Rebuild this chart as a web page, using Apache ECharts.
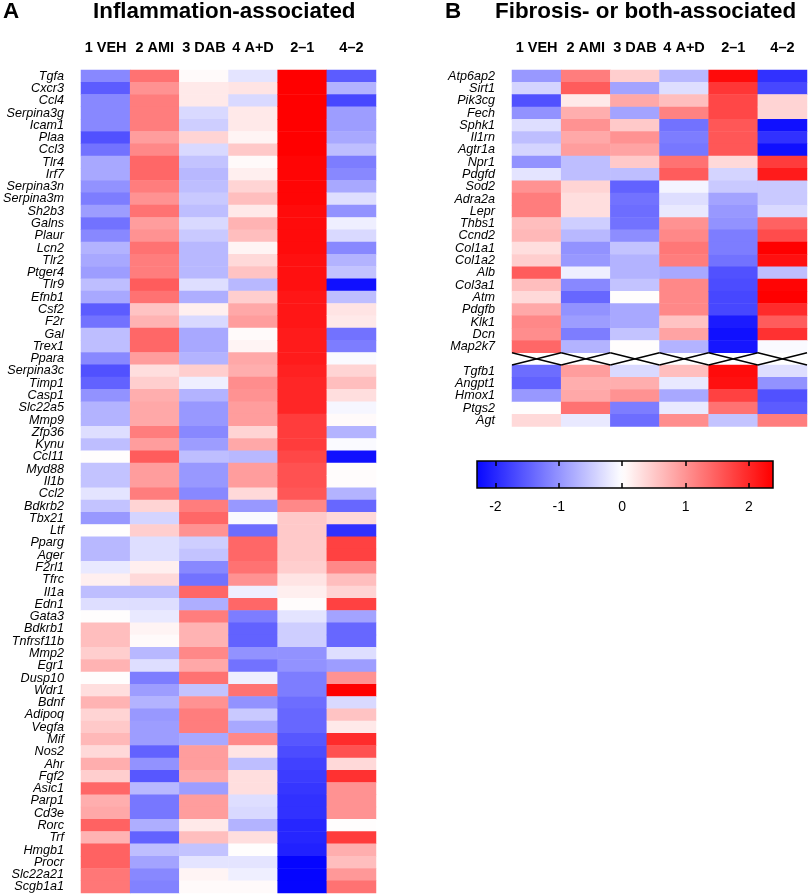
<!DOCTYPE html>
<html><head><meta charset="utf-8">
<script src="https://cdn.jsdelivr.net/npm/echarts@6/dist/echarts.min.js"></script>
<style>html,body{margin:0;padding:0;background:#fff}#c{width:809px;height:896px}</style>
</head><body><div id="c"></div>
<script>
const columns = ['1 VEH', '2 AMI', '3 DAB', '4 A+D', '2\u20131', '4\u20132'];

const genesA = ['Tgfa','Cxcr3','Ccl4','Serpina3g','Icam1','Plaa','Ccl3','Tlr4','Irf7','Serpina3n','Serpina3m','Sh2b3','Galns',
 'Plaur','Lcn2','Tlr2','Ptger4','Tlr9','Efnb1','Csf2','F2r','Gal','Trex1','Ppara','Serpina3c','Timp1','Casp1','Slc22a5','Mmp9','Zfp36','Kynu',
 'Ccl11','Myd88','Il1b','Ccl2','Bdkrb2','Tbx21','Ltf','Pparg','Ager','F2rl1','Tfrc','Il1a','Edn1','Gata3','Bdkrb1','Tnfrsf11b','Mmp2','Egr1',
 'Dusp10','Wdr1','Bdnf','Adipoq','Vegfa','Mif','Nos2','Ahr','Fgf2','Asic1','Parp1','Cd3e','Rorc','Trf','Hmgb1','Procr','Slc22a21','Scgb1a1'];

const aVEH = [-1.1,-1.5,-1.1,-1.1,-1.1,-1.6,-1.3,-0.8,-0.8,-1.0,-1.2,-0.9,-1.3,
 -1.1,-0.7,-0.8,-0.9,-0.6,-0.8,-1.5,-1.3,-0.6,-0.6,-1.1,-1.6,-1.45,-1.0,-0.7,-0.7,-0.3,-0.6,
 0.02,-0.55,-0.55,-0.25,-0.55,-0.95,0.02,-0.65,-0.65,-0.2,0.15,-0.6,-0.3,0.02,0.6,0.6,0.45,0.7,
 0.02,0.3,0.7,0.4,0.5,0.65,0.35,0.75,0.45,1.4,0.75,0.8,1.45,0.7,1.45,1.45,1.25,1.25];
const aAMI = [1.3,1.0,1.2,1.2,1.2,0.9,1.1,1.4,1.4,1.2,1.0,1.3,0.9,
 1.0,1.3,1.2,1.2,1.5,1.3,0.55,0.7,1.4,1.4,0.9,0.3,0.45,0.75,0.8,0.8,1.2,0.9,
 1.5,0.9,0.9,1.2,0.4,-0.4,0.45,-0.3,-0.3,0.15,0.35,-0.6,-0.3,-0.2,0.1,0.05,-0.65,-0.3,
 -1.2,-0.9,-0.7,-0.95,-0.9,-0.9,-1.45,-1.0,-1.55,-0.65,-1.25,-1.25,-0.75,-1.45,-0.6,-0.85,-1.1,-1.15];
const aDAB = [0.05,0.2,0.2,-0.35,-0.45,0.4,-0.35,-0.55,-0.65,-0.6,-0.5,-0.6,-0.35,
 -0.5,-0.65,-0.65,-0.65,-0.3,-0.75,0.15,-0.35,-0.8,-0.8,-0.7,0.45,-0.15,-0.7,-0.95,-0.95,-1.1,-0.9,
 -0.6,-0.95,-0.95,-1.1,1.2,1.4,1.0,-0.45,-0.55,-1.1,-1.3,1.4,-0.75,1.2,0.7,0.7,1.1,0.8,
 1.3,-0.55,1.0,1.2,1.2,-0.8,0.9,0.9,0.8,-0.9,0.9,0.9,0.2,0.6,-0.55,-0.25,0.1,0.05];
const aAD = [-0.25,0.25,-0.35,0.2,0.2,0.1,0.5,0.05,0.15,0.4,0.6,0.2,0.7,
 0.6,0.1,0.35,0.55,-0.65,0.45,0.8,0.9,0.05,0.1,0.8,0.75,1.05,1.0,0.9,0.9,0.4,0.8,
 -0.65,0.9,0.9,0.35,-0.95,-0.05,-1.35,1.4,1.4,1.3,1.0,-0.15,1.4,-1.2,-1.45,-1.45,-1.0,-1.3,
 -0.15,1.3,-1.0,-0.5,-0.8,1.1,0.25,-0.6,0.3,0.3,-0.3,-0.35,-0.7,0.3,0.02,-0.25,-0.15,0.05];
const aD21 = [2.4,2.4,2.4,2.4,2.35,2.35,2.35,2.3,2.3,2.3,2.3,2.25,2.25,
 2.25,2.25,2.2,2.2,2.2,2.15,2.15,2.15,2.1,2.1,2.1,2.05,2.0,2.0,2.0,1.8,1.8,1.8,
 1.7,1.6,1.6,1.55,1.1,0.5,0.5,0.5,0.5,0.45,0.25,0.15,0.03,-0.25,-0.45,-0.45,-1.0,-1.0,
 -1.2,-1.2,-1.35,-1.4,-1.4,-1.55,-1.65,-1.75,-1.8,-1.85,-1.9,-1.9,-2.0,-2.0,-2.05,-2.3,-2.3,-2.3];
const aD42 = [-1.5,-0.7,-1.7,-0.9,-0.9,-0.8,-0.6,-1.2,-1.1,-0.8,-0.3,-1.0,-0.15,
 -0.35,-1.1,-0.7,-0.55,-2.2,-0.6,0.25,0.2,-1.3,-1.2,-0.05,0.4,0.6,0.3,-0.08,0.05,-0.7,-0.05,
 -2.2,0.03,0.03,-0.7,-1.4,0.35,-1.9,1.75,1.75,1.1,0.6,0.4,1.75,-0.85,-1.4,-1.4,-0.3,-0.9,
 1.0,2.35,-0.35,0.55,0.2,1.95,1.6,0.35,1.9,1.0,1.0,1.0,0.02,1.8,0.75,0.6,0.95,1.3];

const genesB1 = ['Atp6ap2','Sirt1','Pik3cg','Fech','Sphk1','Il1rn','Agtr1a','Npr1','Pdgfd','Sod2','Adra2a','Lepr','Thbs1',
 'Ccnd2','Col1a1','Col1a2','Alb','Col3a1','Atm','Pdgfb','Klk1','Dcn','Map2k7'];
const genesB2 = ['Tgfb1','Angpt1','Hmox1','Ptgs2','Agt'];

const bVEH = [-0.95,-0.4,-1.6,-1.0,-0.3,-0.6,-0.4,-1.0,-0.25,1.0,1.2,1.2,0.6,0.65,0.3,0.45,1.5,0.6,0.35,0.8,1.1,1.05,1.4,
 -1.35,-1.45,-0.95,0.02,0.35];
const bAMI = [1.2,1.5,0.2,0.75,1.0,0.8,0.9,-0.6,-0.6,0.4,0.3,0.3,-0.45,-0.65,-1.0,-0.95,-0.15,-1.1,-1.4,-1.0,-0.9,-1.2,-0.7,
 0.9,0.75,0.8,1.3,-0.2];
const bDAB = [0.45,-0.85,0.8,-0.85,0.5,1.0,0.85,0.5,-0.6,-1.45,-1.3,-1.35,-1.3,-1.05,-0.55,-0.7,-0.7,-0.55,0.02,-0.8,-0.8,-0.55,0.02,
 -0.35,0.75,1.0,-1.2,-1.35];
const bAD = [-0.65,-0.3,0.6,1.15,-1.3,-1.2,-1.25,1.3,1.5,-0.1,-0.3,-0.2,1.0,1.1,1.25,1.2,-0.8,1.1,1.1,1.1,0.55,0.85,-0.7,
 0.6,-0.2,-0.8,-0.2,1.05];
const bD21 = [2.25,1.85,1.7,1.7,1.55,1.55,1.55,0.35,-0.4,-0.5,-0.85,-0.95,-1.0,-1.2,-1.2,-1.3,-1.6,-1.65,-1.7,-1.7,-2.1,-2.2,-2.15,
 2.25,2.2,1.75,1.3,-0.55];
const bD42 = [-1.9,-1.7,0.4,0.4,-2.2,-1.9,-2.2,1.8,2.1,-0.5,-0.5,-0.35,1.45,1.65,2.35,2.2,-0.6,2.3,2.35,1.95,1.5,1.9,-0.05,
 -0.3,-1.0,-1.6,-1.5,1.2];

const colorTicks = [-2, -1, 0, 1, 2];
const colorRange = [-2.35, 2.35];   // value mapped to full blue / full red
const barRange = [-2.29, 2.38];     // extent of the colour bar axis

const FONT = '"Liberation Sans", Arial, Helvetica, sans-serif';

const colsA = [aVEH, aAMI, aDAB, aAD, aD21, aD42];
const colsB = [bVEH, bAMI, bDAB, bAD, bD21, bD42];
const sepIndex = genesB1.length;
const genesB = genesB1.concat(['']).concat(genesB2);

const dataA = [];
colsA.forEach((arr, ci) => arr.forEach((v, ri) => dataA.push([ci, ri, v])));
const dataB = [];
colsB.forEach((arr, ci) => arr.forEach((v, ri) => dataB.push([ci, ri < sepIndex ? ri : ri + 1, v])));

function colorFor(v) {
  let t = v / colorRange[1];
  t = Math.max(-1, Math.min(1, t));
  let r, g, b;
  if (t < 0) { r = g = Math.round(255 * (1 + t)); b = 255; }
  else { r = 255; g = b = Math.round(255 * (1 - t)); }
  return 'rgb(' + r + ',' + g + ',' + b + ')';
}
const stops = [];
for (let i = 0; i <= 60; i++) {
  const f = i / 60;
  stops.push({ offset: f, color: colorFor(barRange[0] + f * (barRange[1] - barRange[0])) });
}

const chart = echarts.init(document.getElementById('c'), null, { renderer: 'canvas' });

const catX = (gi) => ({
  gridIndex: gi, type: 'category', data: columns, position: 'top',
  axisLine: { show: false }, axisTick: { show: false }, splitLine: { show: false },
  axisLabel: { interval: 0, fontFamily: FONT, fontWeight: 'bold', fontSize: 14.5, color: '#000', margin: 15 }
});
const catY = (gi, data) => ({
  gridIndex: gi, type: 'category', data: data, inverse: true,
  axisLine: { show: false }, axisTick: { show: false }, splitLine: { show: false },
  axisLabel: { interval: 0, fontFamily: FONT, fontStyle: 'italic', fontSize: 12.6, color: '#000', margin: 17 }
});
const titleStyle = { fontFamily: FONT, fontSize: 22.4, fontWeight: 'bold', color: '#000' };

const option = {
  backgroundColor: '#fff',
  animation: false,
  title: [
    { text: 'A', left: 3, top: 1, padding: 0, textStyle: titleStyle },
    { text: 'Inflammation-associated', left: 93, top: 1, padding: 0, textStyle: titleStyle },
    { text: 'B', left: 445, top: 1, padding: 0, textStyle: titleStyle },
    { text: 'Fibrosis- or both-associated', left: 495, top: 1, padding: 0, textStyle: titleStyle }
  ],
  grid: [
    { left: 81, top: 70, width: 295, height: 823 },
    { left: 512, top: 70, width: 295, height: 356.5 },
    { left: 477, top: 461, width: 296, height: 27 }
  ],
  xAxis: [
    catX(0), catX(1),
    { gridIndex: 2, type: 'value', min: barRange[0], max: barRange[1], position: 'bottom', z: 10,
      axisLine: { show: false }, splitLine: { show: false },
      axisTick: { show: true, inside: true, length: 5, customValues: colorTicks, lineStyle: { color: '#000', width: 1.5 } },
      axisLabel: { show: true, customValues: colorTicks, fontFamily: FONT, fontSize: 14, color: '#000', margin: 12 } },
    { gridIndex: 2, type: 'value', min: barRange[0], max: barRange[1], position: 'top', z: 10,
      axisLine: { show: false }, splitLine: { show: false },
      axisTick: { show: true, inside: true, length: 5, customValues: colorTicks, lineStyle: { color: '#000', width: 1.5 } },
      axisLabel: { show: false } }
  ],
  yAxis: [
    catY(0, genesA), catY(1, genesB),
    { gridIndex: 2, type: 'value', min: 0, max: 1, show: false }
  ],
  visualMap: {
    type: 'continuous', show: false, min: colorRange[0], max: colorRange[1], seriesIndex: [0, 1],
    dimension: 2,
    inRange: { color: ['#0000ff', '#ffffff', '#ff0000'] }
  },
  series: [
    { type: 'heatmap', xAxisIndex: 0, yAxisIndex: 0, data: dataA, itemStyle: { borderWidth: 0 }, emphasis: { disabled: true }, progressive: 0 },
    { type: 'heatmap', xAxisIndex: 1, yAxisIndex: 1, data: dataB, itemStyle: { borderWidth: 0 }, emphasis: { disabled: true }, progressive: 0 },
    { type: 'custom', xAxisIndex: 1, yAxisIndex: 1, silent: true,
      data: columns.map((c, i) => [i, sepIndex]),
      renderItem: function (params, api) {
        const p = api.coord([api.value(0), api.value(1)]);
        const s = api.size([1, 1]);
        const x0 = p[0] - s[0] / 2, x1 = p[0] + s[0] / 2, y0 = p[1] - s[1] / 2, y1 = p[1] + s[1] / 2;
        return { type: 'group', children: [
          { type: 'line', shape: { x1: x0, y1: y0, x2: x1, y2: y1 }, style: { stroke: '#000', lineWidth: 1.5 } },
          { type: 'line', shape: { x1: x0, y1: y1, x2: x1, y2: y0 }, style: { stroke: '#000', lineWidth: 1.5 } }
        ] };
      } },
    { type: 'custom', xAxisIndex: 2, yAxisIndex: 2, silent: true, z: 1,
      data: [[0, 0]],
      renderItem: function (params, api) {
        const cs = params.coordSys;
        return { type: 'rect', shape: { x: cs.x, y: cs.y, width: cs.width, height: cs.height },
          style: { fill: { type: 'linear', x: 0, y: 0, x2: 1, y2: 0, colorStops: stops }, stroke: '#000', lineWidth: 1.5 } };
      } }
  ]
};
chart.setOption(option);
</script>
</body></html>
